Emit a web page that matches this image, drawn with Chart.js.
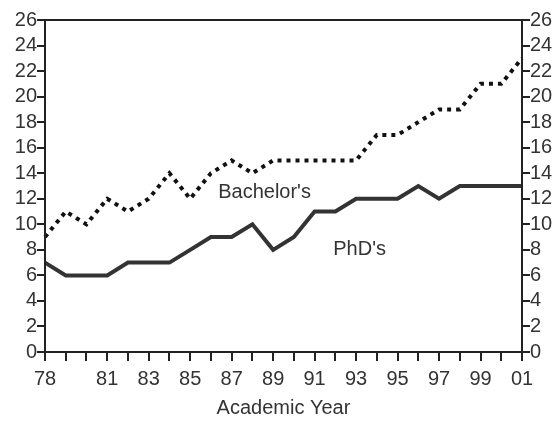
<!DOCTYPE html>
<html>
<head>
<meta charset="utf-8">
<script src="https://cdn.jsdelivr.net/npm/chart.js@4/dist/chart.umd.min.js"></script>
<style>
  html, body { margin: 0; padding: 0; background: #fff; }
  #wrap { width: 555px; height: 440px; }
</style>
</head>
<body>
<div id="wrap"><canvas id="grafico"></canvas></div>
<script>
// === Datos ===
const anios = ['78', '79', '80', '81', '82', '83', '84', '85', '86', '87', '88', '89',
               '90', '91', '92', '93', '94', '95', '96', '97', '98', '99', '00', '01'];
const etiquetasVisibles = ['78', '81', '83', '85', '87', '89', '91', '93', '95', '97', '99', '01'];
const bachelors = [9, 11, 10, 12, 11, 12, 14, 12, 14, 15, 14, 15,
                   15, 15, 15, 15, 17, 17, 18, 19, 19, 21, 21, 23];
const phds = [7, 6, 6, 6, 7, 7, 7, 8, 9, 9, 10, 8,
              9, 11, 11, 12, 12, 12, 13, 12, 13, 13, 13, 13];

// etiquetas de serie dentro del área (índice de año, valor)
const rotulos = [
  { texto: "Bachelor's", x: 8.35, y: 12.5 },
  { texto: "PhD's", x: 13.9, y: 8.0 }
];

const fuente = { family: 'Liberation Sans, Arial, sans-serif', size: 20 };
const tinta = '#222';

// marco alrededor del área + rótulos de series
const marcoYRotulos = {
  id: 'marcoYRotulos',
  afterDatasetsDraw(chart) {
    const { ctx, chartArea: a, scales } = chart;
    ctx.save();
    ctx.strokeStyle = tinta;
    ctx.lineWidth = 2;
    ctx.strokeRect(a.left, a.top, a.right - a.left, a.bottom - a.top);
    ctx.fillStyle = '#333';
    ctx.font = `${fuente.size}px ${fuente.family}`;
    ctx.textBaseline = 'middle';
    ctx.textAlign = 'left';
    rotulos.forEach(r => {
      ctx.fillText(r.texto, scales.x.getPixelForValue(r.x), scales.y.getPixelForValue(r.y));
    });
    ctx.restore();
  }
};

const ejeY = (pos, ancho) => ({
  position: pos,
  min: 0,
  max: 26,
  afterFit: s => { s.width = ancho; },
  grid: { drawOnChartArea: false, color: tinta, tickLength: 8, lineWidth: 2 },
  border: { display: true, color: tinta, width: 2 },
  ticks: { stepSize: 2, autoSkip: false, color: '#333', font: fuente, padding: 0 }
});

new Chart(document.getElementById('grafico'), {
  type: 'line',
  data: {
    labels: anios,
    datasets: [
      {
        label: "Bachelor's",
        data: bachelors,
        borderColor: '#111',
        borderWidth: 4,
        borderDash: [4, 5],
        pointRadius: 0,
        tension: 0,
        yAxisID: 'y'
      },
      {
        label: "PhD's",
        data: phds,
        borderColor: '#333',
        borderWidth: 4,
        pointRadius: 0,
        tension: 0,
        yAxisID: 'y'
      }
    ]
  },
  options: {
    responsive: true,
    maintainAspectRatio: false,
    animation: false,
    layout: { padding: { top: 20, left: 0, right: 0, bottom: 20 } },
    plugins: { legend: { display: false }, tooltip: { enabled: false } },
    scales: {
      x: {
        offset: false,
        afterFit: s => { s.height = 68; },
        grid: { drawOnChartArea: false, color: tinta, tickLength: 9, lineWidth: 2 },
        border: { display: true, color: tinta, width: 2 },
        ticks: {
          autoSkip: false,
          maxRotation: 0,
          color: '#333',
          font: fuente,
          padding: 6,
          callback: (v, i) => etiquetasVisibles.includes(anios[i]) ? anios[i] : ''
        },
        title: {
          display: true,
          text: 'Academic Year',
          color: '#333',
          font: fuente,
          padding: { top: 0, bottom: 0 }
        }
      },
      y: ejeY('left', 45),
      y2: ejeY('right', 33)
    }
  },
  plugins: [marcoYRotulos]
});
</script>
</body>
</html>
